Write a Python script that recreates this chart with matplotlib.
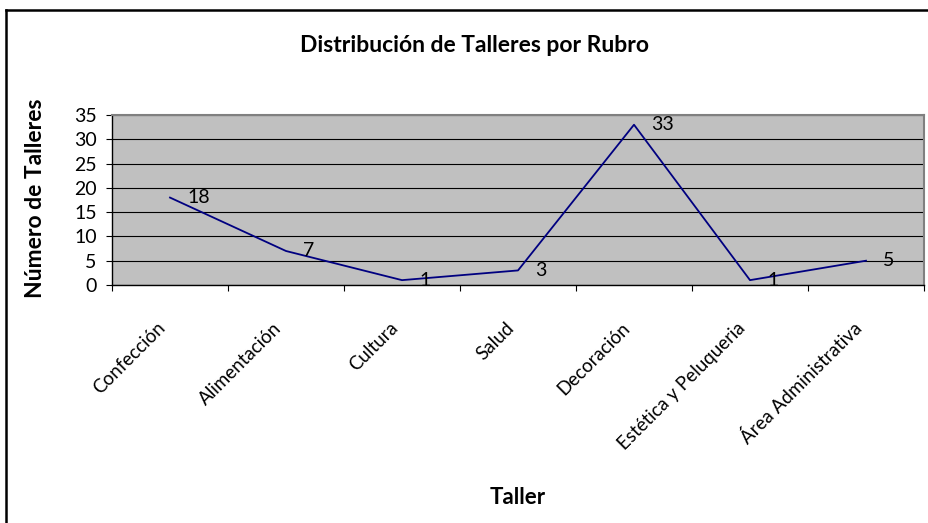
import matplotlib.pyplot as plt
from matplotlib.lines import Line2D
from matplotlib.transforms import ScaledTranslation

# Datos del gráfico
talleres = ["Confección", "Alimentación", "Cultura", "Salud", "Decoración",
            "Estética y Peluqueria", "Área Administrativa"]
cantidades = [18, 7, 1, 3, 33, 1, 5]
y_ticks = [0, 5, 10, 15, 20, 25, 30, 35]

plt.rcParams["font.family"] = ["Lato", "DejaVu Sans"]

W, H = 929, 523
fig = plt.figure(figsize=(W / 100, H / 100), dpi=100)
fig.patch.set_facecolor("white")

# Área de trazado (coordenadas en px del original)
left, right, top, bottom = 112, 924, 115, 285
ax = fig.add_axes([left / W, 1 - bottom / H, (right - left) / W, (bottom - top) / H])
ax.set_facecolor("#C0C0C0")

x = list(range(len(talleres)))
ax.plot(x, cantidades, color="#000080", linewidth=1.3, zorder=3)

for xi, yi in zip(x, cantidades):
    ax.annotate(str(yi), (xi, yi), xytext=(12.5, 0), textcoords="offset points",
                ha="left", va="center", fontsize=14, color="black", zorder=4)

ax.set_xlim(-0.5, len(talleres) - 0.5)
ax.set_ylim(0, 35)
ax.set_yticks(y_ticks)
ax.set_yticklabels([str(v) for v in y_ticks], fontsize=14)
ax.yaxis.grid(True, color="black", linewidth=0.8)
ax.set_axisbelow(True)

# Marcas del eje X en los límites de categoría
ax.set_xticks([i - 0.5 for i in range(len(talleres) + 1)])
ax.set_xticklabels([])
ax.set_xticks(x, minor=True)
ax.set_xticklabels(talleres, minor=True, rotation=45, ha="right", va="center",
                   rotation_mode="anchor", fontsize=13.5)
ax.tick_params(axis="x", which="minor", length=0, pad=29)
ax.tick_params(axis="x", which="major", length=4, width=0.8, direction="out")
ax.tick_params(axis="y", length=4, width=0.8, direction="out", pad=7)

# desplazar etiquetas de categoría un poco a la izquierda
shift = ScaledTranslation(-0.07, 0, fig.dpi_scale_trans)
for lab in ax.get_xticklabels(minor=True):
    lab.set_transform(lab.get_transform() + shift)

for side in ["top", "right"]:
    ax.spines[side].set_color("#808080")
    ax.spines[side].set_linewidth(1.5)
for side in ["left", "bottom"]:
    ax.spines[side].set_color("black")
    ax.spines[side].set_linewidth(1.0)

fig.text(475 / W, 1 - 46 / H, "Distribución de Talleres por Rubro",
         ha="center", va="center", fontsize=16.5, fontweight="bold")
fig.text(36 / W, 1 - 198 / H, "Número de Talleres", rotation=90,
         ha="center", va="center", fontsize=16.5, fontweight="bold")
fig.text(518 / W, 1 - 497 / H, "Taller",
         ha="center", va="center", fontsize=16, fontweight="bold")

# Borde exterior (solo izquierda y arriba visibles)
fig.add_artist(Line2D([6 / W, 6 / W], [0, 1 - 10 / H], transform=fig.transFigure,
                      color="black", linewidth=1.8))
fig.add_artist(Line2D([6 / W, 1], [1 - 10 / H, 1 - 10 / H], transform=fig.transFigure,
                      color="black", linewidth=1.8))

fig.savefig("out.png", dpi=100)
